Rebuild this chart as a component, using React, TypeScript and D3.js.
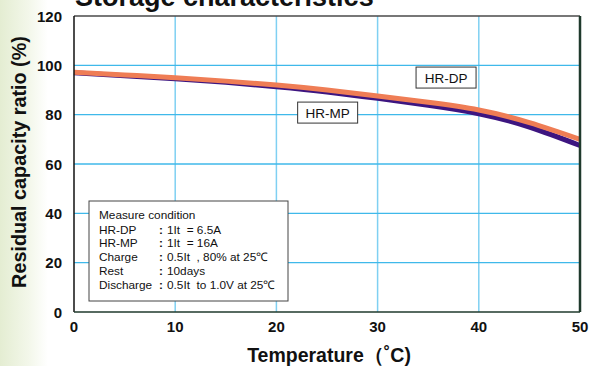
import { useEffect, useRef } from 'react'
import * as d3 from 'd3'

// temperature (°C) vs residual capacity ratio (%)
const temps = [0, 5, 10, 15, 20, 25, 30, 35, 40, 45, 50]
const hrDP = [97.2, 96.1, 95.0, 93.6, 92.0, 90.0, 87.6, 85.0, 81.9, 76.8, 70.0]
const hrMP = [97.0, 95.8, 94.6, 93.1, 91.3, 89.2, 86.6, 83.8, 80.4, 75.0, 67.5]
const xTicks = [0, 10, 20, 30, 40, 50]
const yTicks = [0, 20, 40, 60, 80, 100, 120]
const conditions: [string, string][] = [
  ['HR-DP', '1It\u00a0\u00a0= 6.5A'],
  ['HR-MP', '1It\u00a0\u00a0= 16A'],
  ['Charge', '0.5It\u00a0 , 80% at 25℃'],
  ['Rest', '10days'],
  ['Discharge', '0.5It\u00a0 to 1.0V at 25℃'],
]

const W = 589
const H = 366
const M = { left: 74, right: 9, top: 16, bottom: 54 }
const FONT = 'Liberation Sans, Arial, Helvetica, sans-serif'

export default function App() {
  const ref = useRef<SVGSVGElement>(null)

  useEffect(() => {
    if (!ref.current) return
    const svg = d3.select(ref.current)
    svg.selectAll('*').remove()

    const x = d3.scaleLinear().domain([0, 50]).range([M.left, W - M.right])
    const y = d3.scaleLinear().domain([0, 120]).range([H - M.bottom, M.top])

    const defs = svg.append('defs')
    const grad = defs.append('linearGradient').attr('id', 'bgfade').attr('x1', 0).attr('x2', 1)
    grad.append('stop').attr('offset', '0%').attr('stop-color', '#e4edd2')
    grad.append('stop').attr('offset', '60%').attr('stop-color', '#f3f7ea')
    grad.append('stop').attr('offset', '100%').attr('stop-color', '#ffffff')

    svg.append('rect').attr('width', W).attr('height', H).attr('fill', '#fff')
    svg.append('rect').attr('width', 48).attr('height', H).attr('fill', 'url(#bgfade)')

    // title, cut off at the top like the source image
    svg.append('text')
      .attr('x', 75).attr('y', 6)
      .attr('font-family', FONT).attr('font-weight', 700).attr('font-size', 27)
      .attr('fill', '#111')
      .text('Storage characteristics')

    svg.append('rect')
      .attr('x', x(0)).attr('y', y(120))
      .attr('width', x(50) - x(0)).attr('height', y(0) - y(120))
      .attr('fill', '#fff')

    // grid
    const g = svg.append('g')
    g.selectAll('line.vg').data(xTicks.slice(1, -1)).join('line')
      .attr('x1', d => x(d)).attr('x2', d => x(d))
      .attr('y1', y(120)).attr('y2', y(0))
      .attr('stroke', '#7fd0f2').attr('stroke-width', 1.5)
    g.selectAll('line.hg').data(yTicks.slice(1, -1)).join('line')
      .attr('x1', x(0)).attr('x2', x(50))
      .attr('y1', d => y(d)).attr('y2', d => y(d))
      .attr('stroke', '#3fb9ea').attr('stroke-width', 1.3)

    // curves
    const line = d3.line<number>()
      .x((_, i) => x(temps[i]))
      .y(d => y(d))
      .curve(d3.curveNatural)
    svg.append('path')
      .attr('d', line(hrMP))
      .attr('fill', 'none').attr('stroke', '#3d1580').attr('stroke-width', 5)
    svg.append('path')
      .attr('d', line(hrDP))
      .attr('fill', 'none').attr('stroke', '#ef7d55').attr('stroke-width', 5)

    // frame
    svg.append('line').attr('x1', x(0)).attr('x2', x(50)).attr('y1', y(120)).attr('y2', y(120))
      .attr('stroke', '#4a4a4a').attr('stroke-width', 1.5)
    svg.append('line').attr('x1', x(0)).attr('x2', x(0)).attr('y1', y(120)).attr('y2', y(0))
      .attr('stroke', '#111').attr('stroke-width', 1.5)
    svg.append('line').attr('x1', x(50)).attr('x2', x(50)).attr('y1', y(120)).attr('y2', y(0))
      .attr('stroke', '#1f3a2c').attr('stroke-width', 2.5)
    svg.append('line').attr('x1', x(0)).attr('x2', x(50)).attr('y1', y(0)).attr('y2', y(0))
      .attr('stroke', '#1f3a2c').attr('stroke-width', 1.5)

    // tick labels
    svg.append('g').selectAll('text').data(yTicks).join('text')
      .attr('x', 62).attr('y', d => y(d) + 5.5)
      .attr('text-anchor', 'end')
      .attr('font-family', FONT).attr('font-weight', 700).attr('font-size', 15)
      .attr('fill', '#111')
      .text(d => d)
    svg.append('g').selectAll('text').data(xTicks).join('text')
      .attr('x', d => x(d)).attr('y', 332)
      .attr('text-anchor', 'middle')
      .attr('font-family', FONT).attr('font-weight', 700).attr('font-size', 15)
      .attr('fill', '#111')
      .text(d => d)

    // axis titles
    svg.append('text')
      .attr('x', 329).attr('y', 362)
      .attr('text-anchor', 'middle')
      .attr('font-family', FONT).attr('font-weight', 700).attr('font-size', 19.5)
      .attr('fill', '#111')
      .text('Temperature（˚C)')
    svg.append('text')
      .attr('transform', `translate(25.5,162) rotate(-90)`)
      .attr('text-anchor', 'middle')
      .attr('font-family', FONT).attr('font-weight', 700).attr('font-size', 19.8)
      .attr('fill', '#111')
      .text('Residual capacity ratio (%)')

    // series labels
    const tag = (cx: number, cy: number, label: string) => {
      const t = svg.append('g').attr('transform', `translate(${x(cx)},${y(cy)})`)
      t.append('rect').attr('x', 0).attr('y', 0).attr('width', 60).attr('height', 21)
        .attr('fill', '#fff').attr('stroke', '#333').attr('stroke-width', 1)
      t.append('text').attr('x', 30).attr('y', 15.5).attr('text-anchor', 'middle')
        .attr('font-family', FONT).attr('font-size', 13.5).attr('fill', '#111')
        .text(label)
    }
    tag(33.8, 99.3, 'HR-DP')
    tag(22.1, 85.1, 'HR-MP')

    // measure condition box
    const bx = 89
    const by = 201
    const box = svg.append('g')
    box.append('rect').attr('x', bx).attr('y', by).attr('width', 199).attr('height', 100)
      .attr('fill', '#fff').attr('stroke', '#444').attr('stroke-width', 1)
    const txt = box.append('g')
      .attr('font-family', FONT).attr('font-size', 11.8).attr('fill', '#111')
    txt.append('text').attr('x', bx + 10).attr('y', by + 18).text('Measure condition')
    conditions.forEach(([k, v], i) => {
      const yy = by + 32.5 + i * 13.8
      txt.append('text').attr('x', bx + 10).attr('y', yy).text(k)
      txt.append('text').attr('x', bx + 70).attr('y', yy).attr('font-weight', 700).text(':')
      txt.append('text').attr('x', bx + 78).attr('y', yy).text(v)
    })
  }, [])

  return (
    <svg
      ref={ref}
      width={W}
      height={H}
      style={{ position: 'absolute', left: 0, top: 0 }}
    />
  )
}
